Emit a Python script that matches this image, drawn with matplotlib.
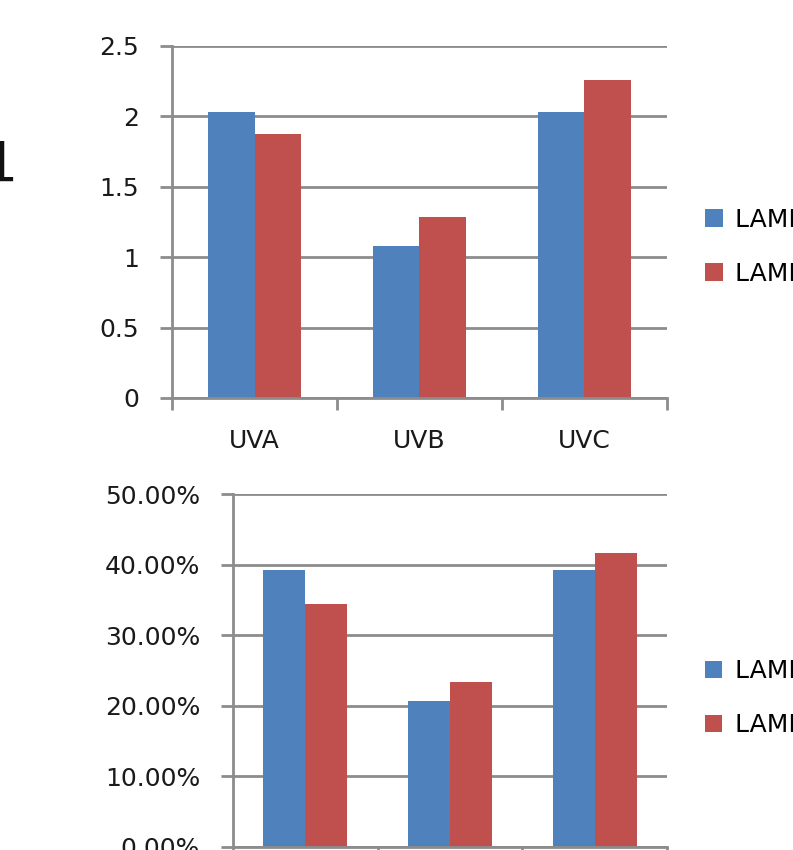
import matplotlib.pyplot as plt
import numpy as np
from matplotlib.ticker import PercentFormatter

# values
categories = ["UVA", "UVB", "UVC"]
series_names = ["LAMP 1", "LAMP 2"]
lamp1_abs = [2.03, 1.08, 2.03]
lamp2_abs = [1.875, 1.285, 2.26]
lamp1_pct = [0.392, 0.206, 0.392]
lamp2_pct = [0.344, 0.233, 0.416]

blue = "#4F81BD"
red = "#C0504D"
grid_col = "#8C8C8C"

plt.rcParams['font.family'] = ['DejaVu Sans']

fig = plt.figure(figsize=(7.93, 8.5), dpi=100)
fig.patch.set_facecolor("white")

def style_axes(ax):
    for s in ["top", "right"]:
        ax.spines[s].set_visible(False)
    for s in ["left", "bottom"]:
        ax.spines[s].set_color(grid_col)
        ax.spines[s].set_linewidth(2)
    ax.yaxis.grid(True, color=grid_col, linewidth=2)
    ax.set_axisbelow(True)
    ax.tick_params(axis="y", length=8.6, width=2, color=grid_col, pad=15,
                   labelsize=18, labelcolor="#1a1a1a")
    ax.tick_params(axis="x", which="major", length=0, pad=22,
                   labelsize=18, labelcolor="#1a1a1a")
    ax.tick_params(axis="x", which="minor", length=8.6, width=2,
                   color=grid_col)
    ax.set_xlim(0, 3)
    x = np.arange(len(categories)) + 0.5
    ax.set_xticks(x)
    ax.set_xticks([0, 1, 2, 3], minor=True)
    return x

# top chart: absolute values
ax1 = fig.add_axes([0.2169, 0.5318, 0.6242, 0.4141])
x = style_axes(ax1)
w = 0.28
ax1.bar(x - w / 2, lamp1_abs, w, color=blue, label=series_names[0])
ax1.bar(x + w / 2, lamp2_abs, w, color=red, label=series_names[1])
ax1.set_ylim(0, 2.5)
ax1.set_yticks([0, 0.5, 1, 1.5, 2, 2.5])
ax1.set_yticklabels(["0", "0.5", "1", "1.5", "2", "2.5"])
ax1.set_xticklabels(categories)
ax1.legend(loc="center left", bbox_to_anchor=(1.032, 0.43), frameon=False,
           fontsize=18, handlelength=0.7, handleheight=0.7,
           labelspacing=1.2, handletextpad=0.5)

# bottom chart: percentages
ax2 = fig.add_axes([0.2938, 0.0041, 0.5473, 0.4147])
x = style_axes(ax2)
w = 0.29
ax2.bar(x - w / 2, lamp1_pct, w, color=blue, label=series_names[0])
ax2.bar(x + w / 2, lamp2_pct, w, color=red, label=series_names[1])
ax2.set_ylim(0, 0.5)
ax2.set_yticks(np.arange(0, 0.51, 0.1))
ax2.yaxis.set_major_formatter(PercentFormatter(1.0, decimals=2))
ax2.set_xticklabels(categories)
ax2.legend(loc="center left", bbox_to_anchor=(1.035, 0.42), frameon=False,
           fontsize=18, handlelength=0.7, handleheight=0.7,
           labelspacing=1.2, handletextpad=0.5)

# leftover of a slide title, cut at the left edge
fig.text(-0.022, 0.805, "1", fontsize=40, color="#111111", va="center")

fig.savefig("out.png", dpi=100)
